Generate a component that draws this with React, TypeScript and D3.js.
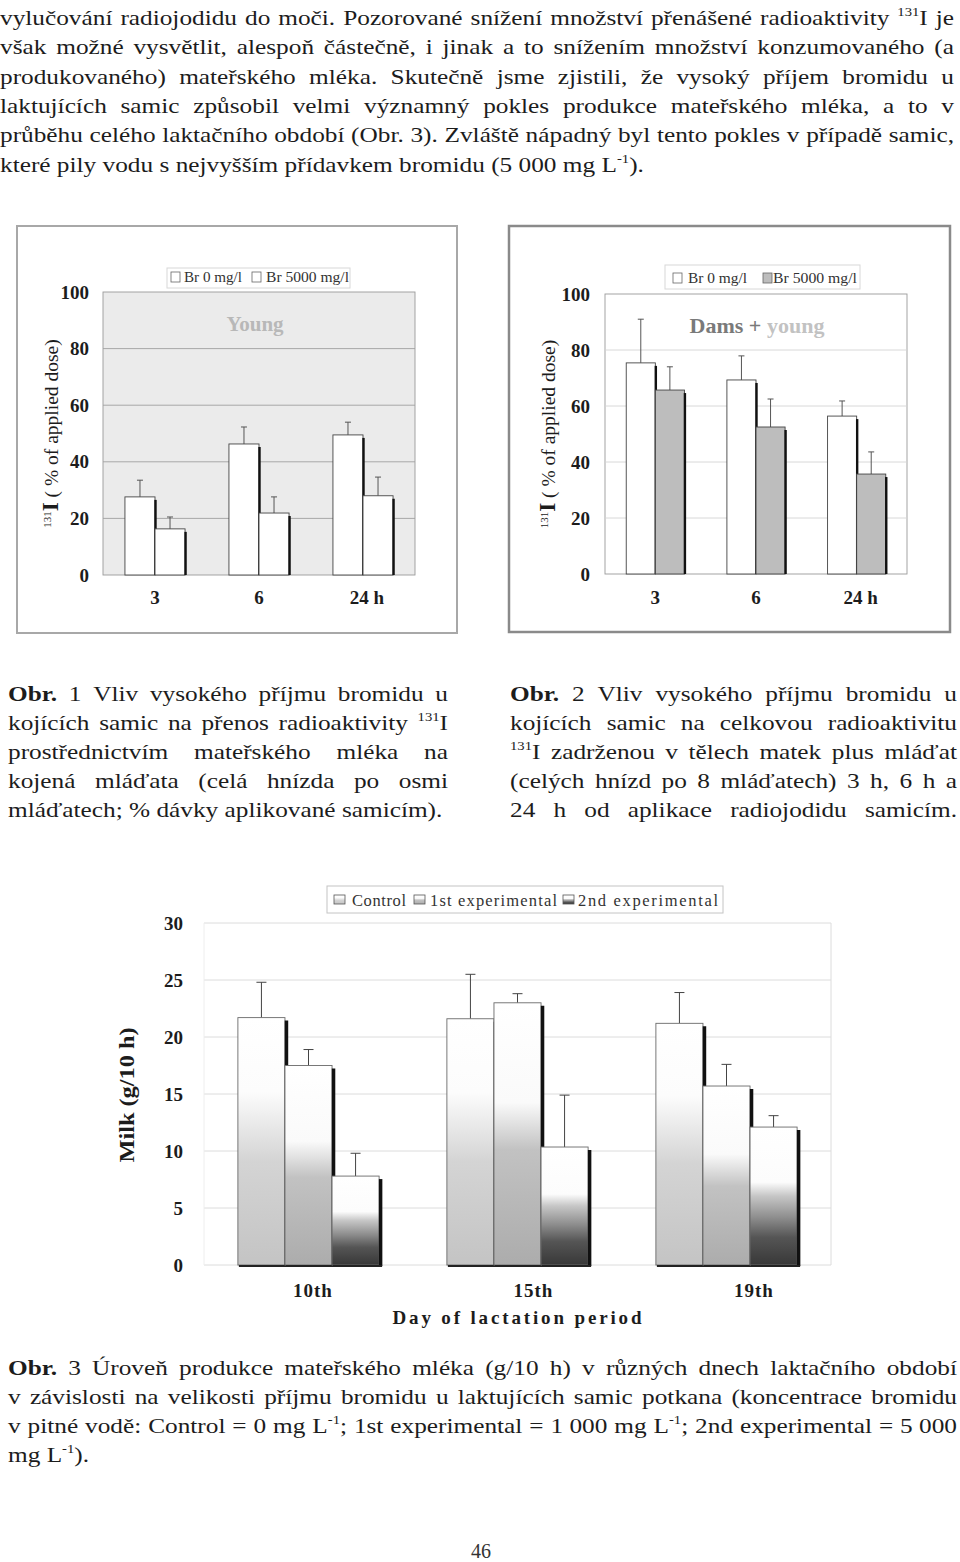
import React from "react";
import * as d3 from "d3";

const FONT = "'Liberation Serif', 'Times New Roman', Times, serif";
const INK = "#1c1c1c";

// ---------- data ----------
const hourCats = ["3", "6", "24 h"];
const subKeys = ["br0", "br5000"];
const young0 = [27.6, 46.3, 49.5];
const young0Sd = [5.9, 6.0, 4.5];
const young5000 = [16.3, 21.9, 28.0];
const young5000Sd = [4.2, 5.7, 6.6];
const dams0 = [75.4, 69.3, 56.4];
const dams0Sd = [15.6, 8.6, 5.4];
const dams5000 = [65.7, 52.5, 35.7];
const dams5000Sd = [8.3, 10.0, 7.9];
const pctTicks = [0, 20, 40, 60, 80, 100];
const legendLabels = ["Br 0 mg/l", "Br 5000 mg/l"];

const milkDays = ["10th", "15th", "19th"];
const milkSeries = ["Control", "1st experimental", "2nd experimental"];
const milkControl = [21.7, 21.6, 21.2];
const milkControlSd = [3.1, 3.9, 2.7];
const milkExp1 = [17.5, 23.0, 15.7];
const milkExp1Sd = [1.4, 0.8, 1.9];
const milkExp2 = [7.8, 10.35, 12.1];
const milkExp2Sd = [2.0, 4.55, 1.0];
const milkTicks = [0, 5, 10, 15, 20, 25, 30];

// ---------- text ----------
const introLines = [
  "vylučování radiojodidu do moči. Pozorované snížení množství přenášené radioaktivity ^131^I je",
  "však možné vysvětlit, alespoň částečně, i jinak a to snížením množství konzumovaného (a",
  "produkovaného) mateřského mléka. Skutečně jsme zjistili, že vysoký příjem bromidu u",
  "laktujících samic způsobil velmi významný pokles produkce mateřského mléka, a to v",
  "průběhu celého laktačního období (Obr. 3). Zvláště nápadný byl tento pokles v případě samic,",
  "které pily vodu s nejvyšším přídavkem bromidu (5\u00a0000 mg L^-1^).",
];
const cap1Lines = [
  "*Obr. 1 Vliv vysokého příjmu bromidu u",
  "kojících samic na přenos radioaktivity ^131^I",
  "prostřednictvím mateřského mléka na",
  "kojená mláďata (celá hnízda po osmi",
  "mláďatech; % dávky aplikované samicím).",
];
const cap2Lines = [
  "*Obr. 2 Vliv vysokého příjmu bromidu u",
  "kojících samic na celkovou radioaktivitu",
  "^131^I zadrženou v tělech matek plus mláďat",
  "(celých hnízd po 8 mláďatech) 3 h, 6 h a",
  "24 h od aplikace radiojodidu samicím.",
];
const cap3Lines = [
  "*Obr. 3 Úroveň produkce mateřského mléka (g/10 h) v různých dnech laktačního období",
  "v závislosti na velikosti příjmu bromidu u laktujících samic potkana (koncentrace bromidu",
  "v pitné vodě: Control = 0 mg L^-1^; 1st experimental = 1\u00a0000 mg L^-1^; 2nd experimental = 5\u00a0000",
  "mg L^-1^).",
];

// ---------- text helpers ----------
const STRETCH = 1.15;
type Seg = { t: string; sup: boolean; bold: boolean };
function parseWord(w: string): Seg[] {
  let bold = false;
  if (w.startsWith("*")) {
    bold = true;
    w = w.slice(1);
  }
  return w
    .split("^")
    .map((t, i) => ({ t, sup: i % 2 === 1, bold }))
    .filter((s) => s.t.length > 0);
}
let ctx: CanvasRenderingContext2D | null = null;
function measure(text: string, size: number, bold: boolean) {
  if (!ctx) ctx = document.createElement("canvas").getContext("2d");
  if (!ctx) return text.length * size * 0.45;
  ctx.font = `${bold ? "bold " : ""}${size}px ${FONT}`;
  return ctx.measureText(text).width;
}

function TextLine(props: { text: string; x0: number; x1: number; y: number; size: number; justify: boolean; k: string }) {
  const { text, x0, x1, y, size, justify, k } = props;
  const words = text.split(" ").map(parseWord);
  const widths = words.map((segs) => segs.map((s) => measure(s.t, s.sup ? size * 0.58 : size, s.bold)));
  const wordW = widths.map((a) => d3.sum(a));
  const total = d3.sum(wordW);
  const n = words.length - 1;
  const avail = x1 - x0;
  const space = measure(" ", size, false);
  let c = STRETCH;
  let gap = space * STRETCH;
  if (justify && n > 0) {
    gap = (avail - total * c) / n;
    const minGap = size * 0.2;
    if (gap < minGap) {
      gap = minGap;
      c = (avail - minGap * n) / total;
    }
  }
  let cx = x0;
  const out: React.ReactNode[] = [];
  words.forEach((segs, i) => {
    segs.forEach((s, j) => {
      const w = widths[i][j] * c;
      out.push(
        <text
          key={`${k}-${i}-${j}`}
          x={cx}
          y={s.sup ? y - size * 0.4 : y}
          fontSize={s.sup ? size * 0.58 : size}
          fontWeight={s.bold ? "bold" : "normal"}
          textLength={w}
          lengthAdjust="spacingAndGlyphs"
        >
          {s.t}
        </text>
      );
      cx += w;
    });
    cx += gap;
  });
  return <g>{out}</g>;
}

function Paragraph(props: { lines: string[]; x0: number; x1: number; y0: number; lh: number; size: number; lastJustify: boolean; k: string }) {
  const { lines, x0, x1, y0, lh, size, lastJustify, k } = props;
  return (
    <g fill={INK} fontFamily={FONT}>
      {lines.map((l, i) => (
        <TextLine
          key={i}
          k={`${k}${i}`}
          text={l}
          x0={x0}
          x1={x1}
          y={y0 + i * lh}
          size={size}
          justify={i < lines.length - 1 || lastJustify}
        />
      ))}
    </g>
  );
}

// ---------- small bar panels ----------
type PanelProps = {
  frame: [number, number, number, number];
  frameStroke: string;
  frameWidth: number;
  xRange: [number, number];
  yRange: [number, number];
  plotFill: string;
  gridColor: string;
  s0: number[];
  s0sd: number[];
  s1: number[];
  s1sd: number[];
  s1Fill: string;
  tickRight: number;
  catY: number;
  ylabX: number;
  legend: { x: number; y: number; w: number; h: number; icons: number[]; texts: number[]; lens: number[]; base: number };
  title: React.ReactNode;
};

function BarPanel(p: PanelProps) {
  const x = d3.scaleBand<string>().domain(hourCats).range(p.xRange).paddingInner(0).paddingOuter(0);
  const xs = d3.scaleBand<string>().domain(subKeys).range([0, x.bandwidth()]).paddingInner(0).paddingOuter(0.73);
  const y = d3.scaleLinear().domain([0, 100]).range(p.yRange);
  const series = [
    { key: subKeys[0], vals: p.s0, sd: p.s0sd, fill: "#ffffff" },
    { key: subKeys[1], vals: p.s1, sd: p.s1sd, fill: p.s1Fill },
  ];
  const [fx, fy, fw, fh] = p.frame;
  return (
    <g fontFamily={FONT}>
      <rect x={fx} y={fy} width={fw} height={fh} fill="#ffffff" stroke={p.frameStroke} strokeWidth={p.frameWidth} />
      <rect
        x={p.xRange[0]}
        y={p.yRange[1]}
        width={p.xRange[1] - p.xRange[0]}
        height={p.yRange[0] - p.yRange[1]}
        fill={p.plotFill}
        stroke="#9a9a9a"
        strokeWidth={0.9}
      />
      {pctTicks.slice(1, -1).map((t) => (
        <line key={t} x1={p.xRange[0]} x2={p.xRange[1]} y1={y(t)} y2={y(t)} stroke={p.gridColor} strokeWidth={0.9} />
      ))}
      {pctTicks.map((t) => (
        <text key={t} x={p.tickRight} y={y(t)} dy="0.35em" textAnchor="end" fontSize={19} fontWeight="bold" fill={INK}>
          {t}
        </text>
      ))}
      {p.title}
      {hourCats.map((c, ci) =>
        series.map((s) => {
          const bx = (x(c) as number) + (xs(s.key) as number);
          const bw = xs.bandwidth();
          const top = y(s.vals[ci]);
          const et = y(s.vals[ci] + s.sd[ci]);
          const cx = bx + bw / 2;
          return (
            <g key={c + s.key}>
              <line x1={cx} x2={cx} y1={top} y2={et} stroke="#555" strokeWidth={1} />
              <line x1={cx - 3} x2={cx + 3} y1={et} y2={et} stroke="#555" strokeWidth={1} />
              <rect x={bx} y={top} width={bw} height={y(0) - top} fill={s.fill} stroke="#444" strokeWidth={0.9} />
              <line x1={bx + bw + 0.5} x2={bx + bw + 0.5} y1={top + 3} y2={y(0)} stroke="#111" strokeWidth={2.4} />
            </g>
          );
        })
      )}
      {hourCats.map((c) => (
        <text
          key={c}
          x={(x(c) as number) + x.bandwidth() / 2 + (c === "24 h" ? 4 : 0)}
          y={p.catY}
          textAnchor="middle"
          fontSize={19}
          fontWeight="bold"
          fill={INK}
        >
          {c}
        </text>
      ))}
      <text transform={`translate(${p.ylabX},${(p.yRange[0] + p.yRange[1]) / 2}) rotate(-90)`} textAnchor="middle" fill={INK}>
        <tspan fontSize={11} dy={-7}>131</tspan>
        <tspan fontSize={23} fontWeight="bold" dy={7}>I</tspan>
        <tspan fontSize={19.5}> ( % of applied dose)</tspan>
      </text>
      <rect x={p.legend.x} y={p.legend.y} width={p.legend.w} height={p.legend.h} fill="#fff" stroke="#d8d8d8" strokeWidth={1} />
      {legendLabels.map((l, i) => (
        <g key={l}>
          <rect
            x={p.legend.icons[i]}
            y={p.legend.base - 10}
            width={9}
            height={10}
            fill={i === 0 ? "#fff" : p.s1Fill}
            stroke="#666"
            strokeWidth={0.8}
          />
          <text x={p.legend.texts[i]} y={p.legend.base} fontSize={14.5} fill="#333" textLength={p.legend.lens[i]} lengthAdjust="spacingAndGlyphs">
            {l}
          </text>
        </g>
      ))}
    </g>
  );
}

// ---------- milk chart ----------
function MilkChart() {
  const x = d3.scaleBand<string>().domain(milkDays).range([204, 831]).paddingInner(0).paddingOuter(0);
  const xs = d3.scaleBand<string>().domain(milkSeries).range([0, x.bandwidth()]).paddingInner(0).paddingOuter(0.72);
  const xl = d3.scalePoint<string>().domain(milkDays).range([313, 754]);
  const y = d3.scaleLinear().domain([0, 30]).range([1265, 923]);
  const vals = [milkControl, milkExp1, milkExp2];
  const sds = [milkControlSd, milkExp1Sd, milkExp2Sd];
  const legIcons = [334, 414, 563];
  const legTexts = [352, 430, 578];
  const legLens = [54, 127, 140];
  return (
    <g fontFamily={FONT}>
      <defs>
        <linearGradient id="gm0" x1="0" y1="0" x2="0" y2="1">
          <stop offset="0" stopColor="#ffffff" />
          <stop offset="0.3" stopColor="#fcfcfc" />
          <stop offset="0.58" stopColor="#d4d4d4" />
          <stop offset="1" stopColor="#c4c4c4" />
        </linearGradient>
        <linearGradient id="gm1" x1="0" y1="0" x2="0" y2="1">
          <stop offset="0" stopColor="#ffffff" />
          <stop offset="0.38" stopColor="#fafafa" />
          <stop offset="0.56" stopColor="#c2c2c2" />
          <stop offset="1" stopColor="#acacac" />
        </linearGradient>
        <linearGradient id="gm2" x1="0" y1="0" x2="0" y2="1">
          <stop offset="0" stopColor="#ffffff" />
          <stop offset="0.4" stopColor="#fcfcfc" />
          <stop offset="0.5" stopColor="#c6c6c6" />
          <stop offset="0.66" stopColor="#8c8c8c" />
          <stop offset="0.8" stopColor="#555555" />
          <stop offset="1" stopColor="#383838" />
        </linearGradient>
      </defs>
      {milkTicks.map((t) => (
        <line key={t} x1={204} x2={831} y1={y(t)} y2={y(t)} stroke="#dcdcdc" strokeWidth={1} />
      ))}
      <line x1={831} x2={831} y1={y(30)} y2={y(0)} stroke="#dcdcdc" strokeWidth={1} />
      <line x1={204} x2={204} y1={y(30)} y2={y(0)} stroke="#eeeeee" strokeWidth={1} />
      {milkTicks.map((t) => (
        <text key={t} x={183} y={y(t)} dy="0.35em" textAnchor="end" fontSize={19} fontWeight="bold" fill={INK}>
          {t}
        </text>
      ))}
      {milkDays.map((d, di) =>
        milkSeries.map((s, si) => {
          const bx = (x(d) as number) + (xs(s) as number);
          const bw = xs.bandwidth();
          const top = y(vals[si][di]);
          const et = y(vals[si][di] + sds[si][di]);
          const cx = bx + bw / 2;
          return (
            <g key={d + s}>
              <line x1={cx} x2={cx} y1={top} y2={et} stroke="#444" strokeWidth={1} />
              <line x1={cx - 5} x2={cx + 5} y1={et} y2={et} stroke="#444" strokeWidth={1} />
              <rect x={bx} y={top} width={bw} height={y(0) - top} fill={`url(#gm${si})`} stroke="#6a6a6a" strokeWidth={0.9} />
              <line x1={bx + bw + 1.5} x2={bx + bw + 1.5} y1={top + 3} y2={y(0) + 1} stroke="#111" strokeWidth={3.5} />
              <line x1={bx + 1} x2={bx + bw + 3} y1={y(0) + 1} y2={y(0) + 1} stroke="#222" strokeWidth={2} />
            </g>
          );
        })
      )}
      {milkDays.map((d) => (
        <text key={d} x={xl(d)} y={1297} textAnchor="middle" fontSize={19} fontWeight="bold" letterSpacing={1} fill={INK}>
          {d}
        </text>
      ))}
      <text x={517} y={1324} textAnchor="middle" fontSize={19} fontWeight="bold" fill={INK} textLength={249} lengthAdjust="spacing">
        Day of lactation period
      </text>
      <text
        transform="translate(134,1095) rotate(-90)"
        textAnchor="middle"
        fontSize={21}
        fontWeight="bold"
        fill={INK}
        textLength={135}
        lengthAdjust="spacingAndGlyphs"
      >
        Milk (g/10 h)
      </text>
      <rect x={327} y={886} width={396} height={27} fill="#fff" stroke="#c4c4c4" strokeWidth={1} />
      {milkSeries.map((s, i) => (
        <g key={s}>
          <rect x={legIcons[i]} y={895} width={11} height={9} fill={`url(#gm${i})`} stroke="#555" strokeWidth={0.8} />
          <text x={legTexts[i]} y={906} fontSize={16.5} fill="#333" textLength={legLens[i]} lengthAdjust="spacing">
            {s}
          </text>
        </g>
      ))}
    </g>
  );
}

export default function App() {
  return (
    <svg
      width={960}
      height={1562}
      viewBox="0 0 960 1562"
      style={{ position: "absolute", left: 0, top: 0, background: "#fff" }}
    >
      <rect x={0} y={0} width={960} height={1562} fill="#ffffff" />
      <Paragraph lines={introLines} x0={0} x1={954} y0={25} lh={29.3} size={22} lastJustify={false} k="in" />

      <BarPanel
        frame={[17, 226, 440, 407]}
        frameStroke="#a8a8a8"
        frameWidth={2}
        xRange={[103, 415]}
        yRange={[575, 292]}
        plotFill="#ebebeb"
        gridColor="#a0a0a0"
        s0={young0}
        s0sd={young0Sd}
        s1={young5000}
        s1sd={young5000Sd}
        s1Fill="#ffffff"
        tickRight={89}
        catY={604}
        ylabX={58}
        legend={{ x: 167, y: 268, w: 183, h: 20, icons: [171, 252], texts: [184, 266], lens: [58, 83], base: 282 }}
        title={
          <text x={255} y={331} textAnchor="middle" fontSize={21} fontWeight="bold" fill="#b8b8b8">
            Young
          </text>
        }
      />
      <BarPanel
        frame={[509, 226, 441, 406]}
        frameStroke="#8a8a8a"
        frameWidth={2.5}
        xRange={[605, 907]}
        yRange={[574, 294]}
        plotFill="#ffffff"
        gridColor="#d4d4d4"
        s0={dams0}
        s0sd={dams0Sd}
        s1={dams5000}
        s1sd={dams5000Sd}
        s1Fill="#bdbdbd"
        tickRight={590}
        catY={604}
        ylabX={555}
        legend={{ x: 665, y: 265, w: 195, h: 24, icons: [673, 763], texts: [688, 773], lens: [59, 84], base: 283 }}
        title={
          <text x={757} y={333} textAnchor="middle" fontSize={22} fontWeight="bold">
            <tspan fill="#7a7a7a">Dams + </tspan>
            <tspan fill="#c2c2c2">young</tspan>
          </text>
        }
      />

      <Paragraph lines={cap1Lines} x0={8} x1={448} y0={701} lh={29} size={22} lastJustify={false} k="c1" />
      <Paragraph lines={cap2Lines} x0={510} x1={957} y0={701} lh={29} size={22} lastJustify={true} k="c2" />

      <MilkChart />

      <Paragraph lines={cap3Lines} x0={8} x1={957} y0={1375} lh={29} size={22} lastJustify={false} k="c3" />
      <text x={481} y={1558} textAnchor="middle" fontFamily={FONT} fontSize={20} fill="#333">
        46
      </text>
    </svg>
  );
}
